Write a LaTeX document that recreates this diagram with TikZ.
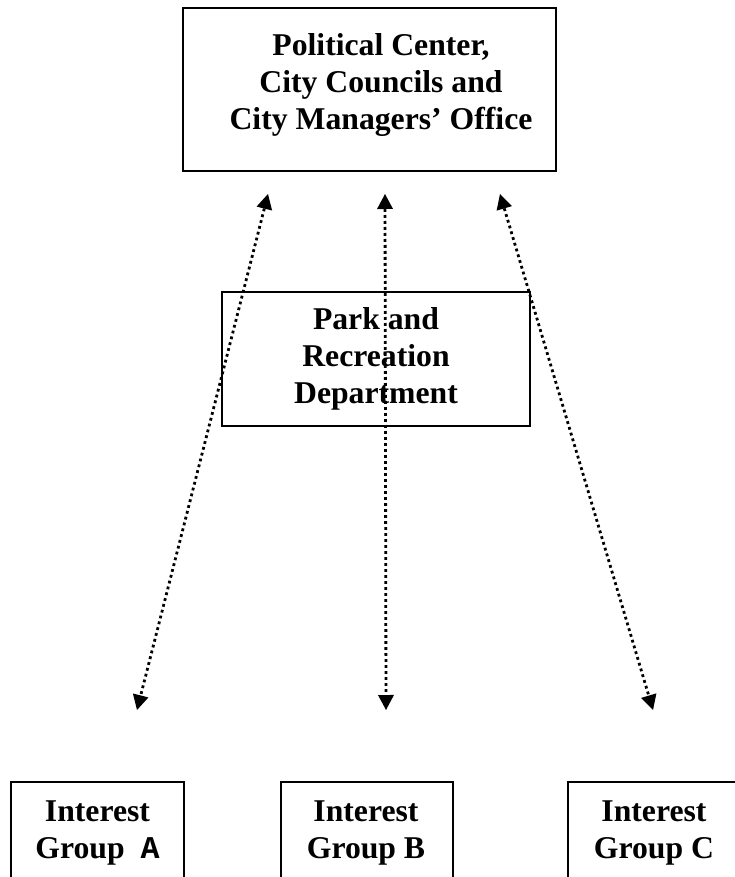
\documentclass[tikz,border=0pt]{standalone}
\usepackage{fontspec}
\setmainfont{Liberation Serif}
\newfontfamily\groupletter{Liberation Mono}
\usetikzlibrary{arrows.meta}
\begin{document}
\begin{tikzpicture}[x=1pt,y=-1pt,
  box/.style={draw=black, line width=2pt, inner sep=0pt},
  lbl/.style={font=\bfseries\fontsize{31.7}{37}\selectfont, align=center, inner sep=0pt},
  link/.style={line width=2.8pt, dash pattern=on 2.8pt off 3.2pt, {Triangle[length=15pt,width=16pt,line width=0pt]}-{Triangle[length=15pt,width=16pt,line width=0pt]}}]
\useasboundingbox (0,0) rectangle (735,877);
\clip (0,0) rectangle (735,877);

% political centre
\node[box, minimum width=373, minimum height=163] (center) at (369.5,89.5) {};
\node[lbl, anchor=north] (centertxt) at (381,33)
  {Political Center,\\City Councils and\\City Managers' Office};

% department in the middle
\node[box, lbl, minimum width=308, minimum height=134] (park) at (376,359)
  {Park and\\Recreation\\Department};

% interest groups along the bottom edge
\node[box, minimum width=173, minimum height=236] (ga) at (97.5,900) {};
\node[box, minimum width=172, minimum height=236] (gb) at (367,900) {};
\node[box, minimum width=172, minimum height=236] (gc) at (654,900) {};
\node[lbl, anchor=north] (gatxt) at (97.5,801) {Interest\\Group\ \ {\groupletter\bfseries A}};
\node[lbl, anchor=north] (gbtxt) at (366,801) {Interest\\Group B};
\node[lbl, anchor=north] (gctxt) at (654,801) {Interest\\Group C};

% two-way links
\coordinate (lt) at (268,194);
\coordinate (lb) at (137,710);
\coordinate (mt) at (385,194);
\coordinate (mb) at (386,710);
\coordinate (rt) at (500,194);
\coordinate (rb) at (653,710);
\draw[link] (lt) -- (lb);
\draw[link] (mt) -- (mb);
\draw[link] (rt) -- (rb);
\end{tikzpicture}
\end{document}
